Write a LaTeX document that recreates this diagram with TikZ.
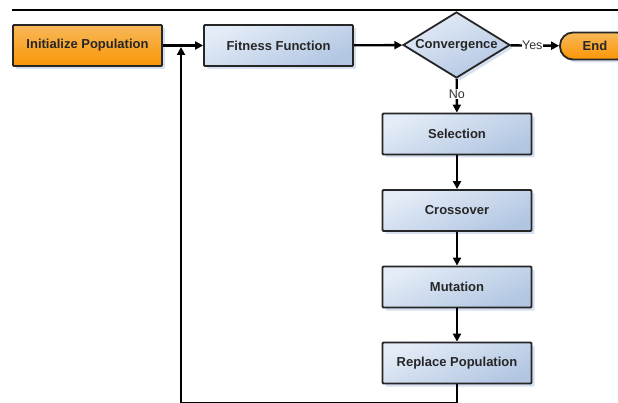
\documentclass[tikz,border=0pt]{standalone}
\usepackage{fontspec}
\setmainfont{Liberation Sans}
\usepackage{xcolor}
\usetikzlibrary{shapes.geometric,shadows,arrows.meta}
\definecolor{boxlight}{RGB}{228,236,247}
\definecolor{boxdark}{RGB}{178,198,226}
\definecolor{orangelight}{RGB}{248,184,90}
\definecolor{orangedark}{RGB}{250,150,5}
\definecolor{shadowblue}{RGB}{214,224,240}
\tikzset{
  every edge/.style={draw, line width=2.4pt},
  >={Triangle[length=8pt,width=8pt]},
  boxshadow/.style={drop shadow={shadow xshift=3pt, shadow yshift=-3pt, fill=shadowblue, opacity=1}},
  procbox/.style={draw=black!85, line width=1.8pt, rounded corners=1pt, boxshadow,
    top color=boxlight, bottom color=boxdark, shading angle=25,
    minimum width=149pt, minimum height=41pt, inner sep=0pt, text=black!85,
    font=\fontsize{13}{15}\selectfont\bfseries},
  startbox/.style={procbox, top color=orangelight, bottom color=orangedark},
  decision/.style={procbox, diamond, rounded corners=0pt, aspect=2,
    minimum width=107pt, minimum height=66pt},
  terminal/.style={procbox, rounded corners=13pt, top color=orangelight, bottom color=orangedark,
    minimum width=70pt, minimum height=27pt},
  edgelabel/.style={fill=white, inner sep=0.5pt, text=black!80,
    font=\fontsize{12.5}{14}\selectfont}
}
\begin{document}
\begin{tikzpicture}[x=1pt, y=-1pt]
    \useasboundingbox (0,0) rectangle (618,403);
    \clip (0,0) rectangle (618,403);
    \draw[line width=1.2pt] (12,10) -- (618,10);

    \node[startbox] at (87.5, 45.5) (init) {Initialize Population};
    \node[procbox] at (278.5, 45.5) (fitness) {Fitness Function};
    \node[decision] at (456.5, 45) (conv) {Convergence};
    \node[terminal] at (595, 46) (finish) {End};
    \node[procbox] at (457, 134) (select) {Selection};
    \node[procbox] at (457, 210.5) (cross) {Crossover};
    \node[procbox] at (457, 287) (mutate) {Mutation};
    \node[procbox] at (457, 363) (replace) {Replace Population};
    \coordinate (merge) at (181, 47);

    \draw (init) edge[->] (fitness);
    \draw (fitness) edge[->] (conv);
    \draw (conv) edge[->] node[edgelabel, pos=0.45] {Yes} (finish);
    \draw (conv) edge[->] node[edgelabel, pos=0.45] {No} (select);
    \draw (select) edge[->] (cross);
    \draw (cross) edge[->] (mutate);
    \draw (mutate) edge[->] (replace);
    % retour vers la fonction de fitness
    \draw[->, line width=2.4pt] (replace.south) -- ++(0,19) -| (merge);
  \end{tikzpicture}
\end{document}
